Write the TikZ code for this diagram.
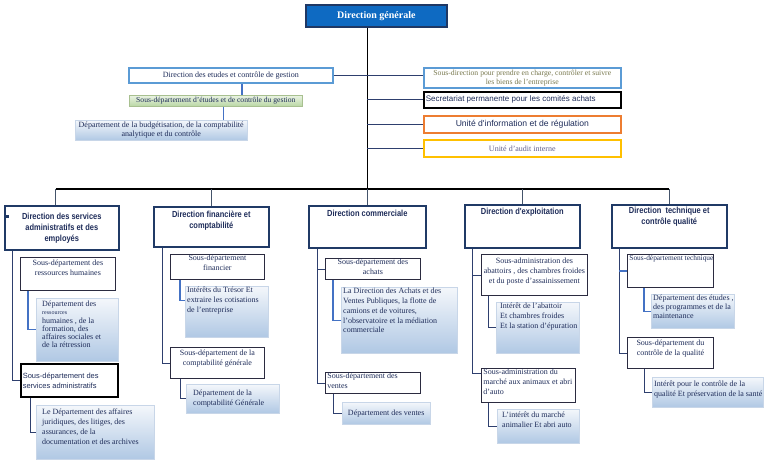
\documentclass[tikz,border=0pt]{standalone}
\usepackage{fontspec}
\setmainfont{Liberation Serif}
\newfontfamily\headfont[FakeStretch=0.85]{Liberation Sans}
\newfontfamily\plainsans{Liberation Sans}
\usetikzlibrary{shadows}
\definecolor{navy}{HTML}{1F3864}
\definecolor{dgblue}{HTML}{0E6AC2}
\definecolor{headline}{HTML}{203A66}
\definecolor{ink}{HTML}{1F2D5A}
\definecolor{lightline}{HTML}{5B9BD5}
\definecolor{tieblue}{HTML}{4472C4}
\definecolor{linkc}{HTML}{2E3F6E}
\definecolor{dropc}{HTML}{44546A}
\definecolor{sdline}{HTML}{2B2B40}
\definecolor{olivetext}{HTML}{7A7A50}
\definecolor{audittext}{HTML}{5F5F8F}
\definecolor{orangeline}{HTML}{ED7D31}
\definecolor{goldline}{HTML}{FFC000}
\definecolor{depttop}{HTML}{F4F7FB}
\definecolor{deptbot}{HTML}{B0C8E4}
\definecolor{deptline}{HTML}{C8D6E8}
\definecolor{greentop}{HTML}{EAF3E3}
\definecolor{greenbot}{HTML}{B9D7A4}
\definecolor{greenline}{HTML}{A8C090}
% box text: [position]{width}{height}{text}
\newcommand{\cell}[4][t]{\parbox[t][\dimexpr#3pt-2pt\relax][#1]{\dimexpr#2pt-4pt\relax}{#4}}
\begin{document}
\begin{tikzpicture}[x=1pt,y=-1pt,
  every node/.style={anchor=north west,inner xsep=2pt,inner ysep=1pt,font=\fontsize{8}{9.8}\selectfont,text=ink},
  dg/.style={draw=navy,line width=1.6pt,fill=dgblue,text=white,font=\fontsize{10}{12}\selectfont\bfseries},
  head/.style={draw=headline,line width=1.6pt,fill=white,font=\headfont\bfseries\fontsize{8.8}{11}\selectfont},
  ring/.style={draw=#1,line width=1.6pt,fill=white},
  sd/.style={draw=sdline,line width=0.8pt,fill=white},
  dept/.style={draw=deptline,line width=0.4pt,top color=depttop,bottom color=deptbot,
    drop shadow={shadow xshift=1.2pt,shadow yshift=-1.2pt,opacity=.3}},
  greenbox/.style={draw=greenline,line width=0.6pt,top color=greentop,bottom color=greenbot},
  bus/.style={line width=1.6pt,black},
  drop/.style={line width=0.9pt,dropc},
  link/.style={line width=0.6pt,linkc},
  tie/.style={line width=1.4pt,tieblue}]
\useasboundingbox (0,0) rectangle (768,468);

% top
\node[dg] (dg) at (305,4) {\cell[c]{141}{22}{\centering Direction générale}};
\node[ring=lightline] (etudes) at (128,67) {\cell[c]{204}{15}{\centering Direction des etudes et contrôle de gestion}};
\node[greenbox] (sdetudes) at (129,95) {\cell[c]{173}{11}{\centering\fontsize{7.6}{9}\selectfont\mbox{Sous-département d'études et de contrôle du gestion}}};
\node[dept] (budget) at (75,120) {\cell[c]{172}{20}{\centering\fontsize{8}{8.8}\selectfont\mbox{Département de la budgétisation, de la comptabilité}\\ analytique et du contrôle}};
\node[ring=lightline,text=olivetext] (sdbiens) at (423,67) {\cell[c]{197}{20}{\centering\fontsize{7.7}{8.8}\selectfont\mbox{Sous-direction pour prendre en charge, contrôler et suivre}\\ les biens de l'entreprise}};
\node[ring=black,font=\plainsans\fontsize{8}{9}\selectfont] (secret) at (423,91) {\cell[c]{197}{16}{\raggedright Secretariat permanente pour les comités achats}};
\node[ring=orangeline,font=\plainsans\fontsize{8.6}{9}\selectfont] (uinfo) at (423,115) {\cell[c]{197}{17}{\centering Unité d'information et de régulation}};
\node[ring=goldline,text=audittext] (audit) at (423,139) {\cell[c]{197}{17}{\centering Unité d'audit interne}};

% directions
\node[head] (h1) at (4,205) {\cell[c]{114}{44}{\centering Direction des services\\ administratifs et des\\ employés}};
\node[fill=navy,inner sep=1.4pt] (puce) at (5.5,214.5) {};
\node[head] (h2) at (153,206) {\cell{115}{40}{\centering\vspace*{3pt}Direction financière et\\ comptabilité}};
\node[head] (h3) at (308,205) {\cell{117}{42}{\centering\vspace*{3pt}Direction commerciale}};
\node[head] (h4) at (464,204) {\cell{115}{43}{\centering\vspace*{2pt}Direction d'exploitation}};
\node[head] (h5) at (611,204) {\cell{115}{43}{\centering\vspace*{1pt}Direction\ \ technique et\\ contrôle qualité}};

% col 1
\node[sd] (sdrh) at (20,257) {\cell{95}{33}{\centering\vspace*{2pt}Sous-département des\\ ressources humaines}};
\node[dept] (drh) at (36,298) {\cell{82}{63}{\raggedright\leftskip=4pt\relax\fontsize{8}{8.2}\selectfont\vspace*{2pt}Département des\\ {\fontsize{6}{6}\selectfont ressources}\\ humaines , de la\\ formation, des\\ affaires sociales et\\ de la rétression}};
\node[sd,draw=black,line width=1.6pt,font=\plainsans\fontsize{7.5}{10}\selectfont] (sdsa) at (20,363) {\cell[c]{97}{33}{\raggedright Sous-département des\\ services administratifs}};
\node[dept] (dlj) at (36,405) {\cell{118}{54}{\raggedright\leftskip=4pt\relax\vspace*{3pt}Le Département des affaires\\ juridiques, des litiges, des\\ assurances, de la\\ documentation et des archives}};

% col 2
\node[sd] (sdfin) at (170,254) {\cell{94}{25}{\centering Sous-département\\ financier}};
\node[dept] (dtresor) at (185,286) {\cell{83}{51}{\raggedright Intérêts du Trésor Et\\ extraire les cotisations\\ de l'entreprise}};
\node[sd] (sdcg) at (170,347) {\cell{94}{31}{\centering\vspace*{2pt}Sous-département de la\\ comptabilité générale}};
\node[dept] (dcg) at (186,384) {\cell[c]{93}{29}{\raggedright\leftskip=5pt\relax Département de la\\ comptabilité Générale}};

% col 3
\node[sd] (sdach) at (325,258) {\cell{95}{21}{\centering Sous-département des\\ achats}};
\node[dept] (dach) at (341,287) {\cell{116}{66}{\raggedright La Direction des Achats et des\\ Ventes Publiques, la flotte de\\ camions et de voitures,\\ l'observatoire et la médiation\\ commerciale}};
\node[sd] (sdven) at (325,372) {\cell{95}{21}{\raggedright Sous-département des\\ ventes}};
\node[dept] (dven) at (342,402) {\cell[c]{88}{22}{\centering Département des ventes}};

% col 4
\node[sd] (sdab) at (481,254) {\cell{106}{41}{\centering\vspace*{3pt}Sous-administration des\\ \mbox{abattoirs , des chambres froides}\\ et du poste d'assainissement}};
\node[dept] (dab) at (496,302) {\cell{83}{51}{\raggedright\leftskip=2pt\relax Intérêt de l'abattoir\\ Et chambres froides\\ \mbox{Et la station d'épuration}}};
\node[sd] (sdmar) at (481,368) {\cell{94}{34}{\raggedright Sous-administration du\\ marché aux animaux et abri\\ d'auto}};
\node[dept] (dmar) at (497,409) {\cell{82}{34}{\raggedright\leftskip=3pt\relax\vspace*{2pt}L'intérêt du marché\\ animalier Et abri auto}};

% col 5
\node[sd] (sdtech) at (627,254) {\cell{86}{33}{\raggedright\fontsize{7.4}{9}\selectfont\mbox{Sous-département technique}}};
\node[dept] (dtech) at (651,294) {\cell{83}{34}{\raggedright\fontsize{8}{9}\selectfont\mbox{Département des études ,}\\ des programmes et de la\\ maintenance}};
\node[sd] (sdqual) at (627,337) {\cell{86}{31}{\centering\vspace*{2pt}Sous-département du\\ contrôle de la qualité}};
\node[dept] (dqual) at (652,377) {\cell{111}{30}{\raggedright\vspace*{3pt}Intérêt pour le contrôle de la\\ \mbox{qualité Et préservation de la santé}}};

% trunk and bus
\coordinate (bus) at (0,189);
\draw[bus] (dg.south -| h3.north) -- (h3.north |- bus);
\draw[bus] ([xshift=-6pt]h1.north |- bus) -- (h5.north |- bus);
\draw[drop] ([xshift=-6pt]h1.north |- bus) -- ([xshift=-6pt]h1.north);
\foreach \c in {h2,h3,h4,h5}
  \draw[drop] (\c.north |- bus) -- (\c.north);

% top links
\draw[link] (etudes.east) -- (etudes.east -| sdbiens.west);
\foreach \b in {secret,uinfo,audit}
  \draw[link] (h3.north |- \b.west) -- (\b.west);
\draw[tie] ([xshift=11pt]etudes.south) -- ([xshift=11pt]etudes.south |- sdetudes.north);
\draw[tie] ([xshift=7.5pt]sdetudes.south) -- ([xshift=7.5pt]sdetudes.south |- budget.north);

% col links
\draw[link] ([xshift=8pt]h1.south west) |- (sdsa.west);
\draw[tie] ([xshift=8pt]sdrh.south west) |- (drh.west);
\draw[link] ([xshift=10pt]sdsa.south west) |- (dlj.west);
\draw[link] ([xshift=9pt]h2.south west) |- (sdcg.west);
\draw[tie] ([xshift=10pt]sdfin.south west) |- ([yshift=11pt]dtresor.west);
\draw[link] ([xshift=10pt]sdcg.south west) |- (dcg.west);
\draw[link] ([xshift=9pt]h3.south west) |- (sdven.west);
\draw[link] ([xshift=9pt]h3.south west |- sdach.west) -- (sdach.west);
\draw[tie] ([xshift=8pt]sdach.south west) |- (dach.west);
\draw[link] ([xshift=8pt]sdven.south west) |- (dven.west);
\draw[link] ([xshift=8pt]h4.south west) |- ([yshift=12pt]sdmar.west);
\draw[link] ([xshift=8pt]h4.south west |- sdab.west) -- (sdab.west);
\draw[link] ([xshift=7pt]sdab.south west) |- (dab.west);
\draw[link] ([xshift=7pt]sdmar.south west) |- (dmar.west);
\draw[link] ([xshift=8pt]h5.south west) |- (sdqual.west);
\draw[tie] ([xshift=8pt]h5.south west |- sdtech.west) -- (sdtech.west);
\draw[tie] ([xshift=17pt]sdtech.south west) |- (dtech.west);
\draw[link] ([xshift=17pt]sdqual.south west) |- (dqual.west);
\end{tikzpicture}
\end{document}
